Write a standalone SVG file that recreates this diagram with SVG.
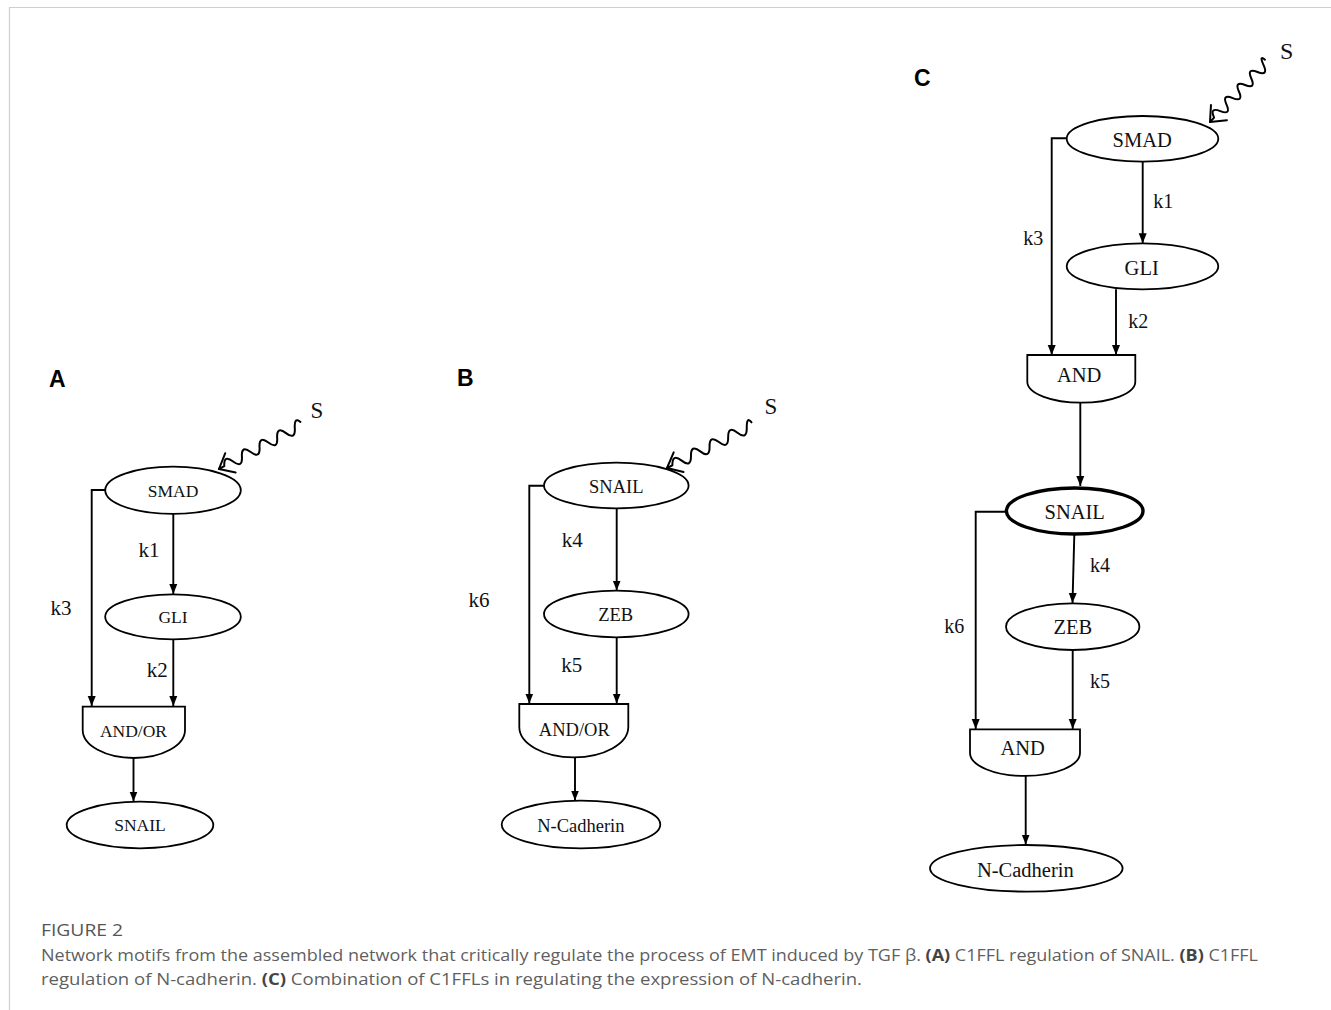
<svg xmlns="http://www.w3.org/2000/svg" width="1331" height="1010" viewBox="0 0 1331 1010">
<style>
.n{fill:#fff;stroke:#000;stroke-width:1.8}
.thick{stroke-width:3.4}
.e{fill:none;stroke:#000;stroke-width:1.9}
.w{fill:none;stroke:#000;stroke-width:2;stroke-linecap:round;stroke-linejoin:round}
.t{font-family:"Liberation Serif","Times New Roman",serif;fill:#111;text-anchor:middle}
.a{font-size:17.5px}
.b{font-size:18.5px}
.c{font-size:20.5px}
.k{font-family:"Liberation Serif","Times New Roman",serif;fill:#111;text-anchor:middle;font-size:21px}
.s{font-family:"Liberation Serif","Times New Roman",serif;fill:#111;text-anchor:middle;font-size:23px}
.p{font-family:"Liberation Sans",Arial,sans-serif;font-weight:bold;font-size:23px;fill:#000}
.cap{font-family:"Open Sans","Lato",sans-serif;fill:#5f5f5f;font-size:16px}
.cb{font-weight:bold;fill:#444}
</style>
<defs>
<marker id="ar" markerUnits="userSpaceOnUse" markerWidth="10" markerHeight="10" viewBox="0 0 10 10" refX="10" refY="5" orient="auto">
<path d="M0,1 L10,5 L0,9 Z" fill="#000"/>
</marker>
</defs>
<rect width="1331" height="1010" fill="#fff"/>
<g id="frame" stroke="#cfcfcf" stroke-width="1.2" fill="none">
<line x1="9" y1="7.5" x2="1331" y2="7.5"/>
<line x1="9.5" y1="7" x2="9.5" y2="1010"/>
</g>

<g id="connectors">
<!-- Panel A -->
<polyline class="e" points="105,490 91.7,490 91.7,706" marker-end="url(#ar)"/>
<line class="e" x1="173.3" y1="514" x2="173.3" y2="594" marker-end="url(#ar)"/>
<line class="e" x1="173.3" y1="639.5" x2="173.3" y2="706" marker-end="url(#ar)"/>
<line class="e" x1="133.5" y1="758" x2="133.5" y2="801.5" marker-end="url(#ar)"/>
<g transform="translate(219,469) rotate(-28.2)">
<path class="w" d="M0,0 L6,0 Q11,-11 16,0 T26,0 T36,0 T46,0 T56,0 T66,0 T76,0 T86,0 T94,-3"/>
<path class="w" d="M13,-11 L0,0 L13,11"/>
</g>
<!-- Panel B -->
<polyline class="e" points="544,485.7 529.3,485.7 529.3,703.5" marker-end="url(#ar)"/>
<line class="e" x1="616.7" y1="508.5" x2="616.7" y2="590.5" marker-end="url(#ar)"/>
<line class="e" x1="616.7" y1="637.5" x2="616.7" y2="703.5" marker-end="url(#ar)"/>
<line class="e" x1="575" y1="757.3" x2="575" y2="800.5" marker-end="url(#ar)"/>
<g transform="translate(667,468) rotate(-26.6)">
<path class="w" d="M0,0 L6,0 Q11.2,-11 16.4,0 T26.8,0 T37.2,0 T47.6,0 T58,0 T68.4,0 T78.8,0 T89.2,0 T96,-3"/>
<path class="w" d="M13,-11 L0,0 L13,11"/>
</g>
<!-- Panel C -->
<polyline class="e" points="1066.7,138.3 1051.7,138.3 1051.7,355" marker-end="url(#ar)"/>
<line class="e" x1="1142.7" y1="161.7" x2="1142.7" y2="243.3" marker-end="url(#ar)"/>
<line class="e" x1="1116" y1="289.3" x2="1116" y2="355" marker-end="url(#ar)"/>
<line class="e" x1="1080.3" y1="402.7" x2="1080.3" y2="486" marker-end="url(#ar)"/>
<polyline class="e" points="1006,511.7 975.7,511.7 975.7,729" marker-end="url(#ar)"/>
<line class="e" x1="1074.3" y1="535" x2="1072.5" y2="603" marker-end="url(#ar)"/>
<line class="e" x1="1072.7" y1="650" x2="1072.7" y2="729" marker-end="url(#ar)"/>
<line class="e" x1="1025.7" y1="776" x2="1025.7" y2="844.5" marker-end="url(#ar)"/>
<g transform="translate(1210,122) rotate(-46.5)">
<path class="w" d="M0,0 L6,0 Q10.5,-11 15,0 T24,0 T33,0 T42,0 T51,0 T60,0 T69,0 T78,0 T83,-3"/>
<path class="w" d="M13,-11 L0,0 L13,11"/>
</g>
</g>

<!-- Panel labels -->
<text class="p" x="49" y="387">A</text>
<text class="p" x="457" y="386">B</text>
<text class="p" x="914" y="85.5">C</text>

<!-- Panel A nodes -->
<text class="s" x="317" y="418">S</text>
<g id="A-SMAD"><ellipse class="n" cx="173" cy="490.3" rx="67.8" ry="23.6"/><text class="t a" x="173" y="496.8">SMAD</text></g>
<g id="A-GLI"><ellipse class="n" cx="173" cy="616.8" rx="67.8" ry="22.5"/><text class="t a" x="173" y="623">GLI</text></g>
<g id="A-GATE"><path class="n" d="M82.7,706.7 L185,706.7 L185,730 A51.15,28 0 0 1 82.7,730 Z"/><text class="t a" x="133.5" y="736.5">AND/OR</text></g>
<g id="A-SNAIL"><ellipse class="n" cx="140" cy="825" rx="73.3" ry="23.3"/><text class="t a" x="140" y="831">SNAIL</text></g>
<text class="k" x="149" y="556.5">k1</text>
<text class="k" x="61" y="615">k3</text>
<text class="k" x="157.3" y="676.5">k2</text>

<!-- Panel B nodes -->
<text class="s" x="771" y="414">S</text>
<g id="B-SNAIL"><ellipse class="n" cx="616.3" cy="485.5" rx="72.3" ry="22.9"/><text class="t b" x="616.3" y="492.5">SNAIL</text></g>
<g id="B-ZEB"><ellipse class="n" cx="616.3" cy="614" rx="72.3" ry="23.3"/><text class="t b" x="615.7" y="621.3">ZEB</text></g>
<g id="B-GATE"><path class="n" d="M519.3,704 L628.3,704 L628.3,727 A54.5,30.3 0 0 1 519.3,727 Z"/><text class="t b" x="574.3" y="736">AND/OR</text></g>
<g id="B-NCAD"><ellipse class="n" cx="581" cy="824.5" rx="79.3" ry="23.8"/><text class="t b" x="580.8" y="832">N-Cadherin</text></g>
<text class="k" x="572.3" y="546.5">k4</text>
<text class="k" x="479" y="606.5">k6</text>
<text class="k" x="571.7" y="671.5">k5</text>

<!-- Panel C nodes -->
<text class="s" x="1286.7" y="59.3" style="font-size:24px">S</text>
<g id="C-SMAD"><ellipse class="n" cx="1142.5" cy="138.8" rx="75.8" ry="22.8"/><text class="t c" x="1142.2" y="146.5">SMAD</text></g>
<g id="C-GLI"><ellipse class="n" cx="1142.5" cy="266.3" rx="75.8" ry="23"/><text class="t c" x="1141.7" y="274.5">GLI</text></g>
<g id="C-GATE1"><path class="n" d="M1027.3,355 L1135.3,355 L1135.3,381.7 A54,21 0 0 1 1027.3,381.7 Z"/><text class="t c" x="1079.2" y="381.5">AND</text></g>
<g id="C-SNAIL"><ellipse class="n thick" cx="1074.7" cy="511" rx="68.3" ry="23"/><text class="t c" x="1074.7" y="519">SNAIL</text></g>
<g id="C-ZEB"><ellipse class="n" cx="1072.7" cy="626.7" rx="66.7" ry="23.3"/><text class="t c" x="1072.8" y="634">ZEB</text></g>
<g id="C-GATE2"><path class="n" d="M970,729.3 L1080,729.3 L1080,753 A55,23 0 0 1 970,753 Z"/><text class="t c" x="1022.7" y="755">AND</text></g>
<g id="C-NCAD"><ellipse class="n" cx="1026.3" cy="868.3" rx="96.3" ry="23.3"/><text class="t c" x="1025.3" y="876.5">N-Cadherin</text></g>
<text class="k" x="1163.3" y="208.3" style="font-size:20px">k1</text>
<text class="k" x="1033.3" y="245" style="font-size:20px">k3</text>
<text class="k" x="1138.3" y="328.3" style="font-size:20px">k2</text>
<text class="k" x="1100" y="571.5" style="font-size:20px">k4</text>
<text class="k" x="954.2" y="633.3" style="font-size:20px">k6</text>
<text class="k" x="1100" y="688.3" style="font-size:20px">k5</text>

<!-- Caption -->
<g id="caption">
<text class="cap" x="41" y="936" style="font-size:15.5px;fill:#555" textLength="82" lengthAdjust="spacingAndGlyphs">FIGURE 2</text>
<text class="cap" x="41" y="961" textLength="1217" lengthAdjust="spacingAndGlyphs">Network motifs from the assembled network that critically regulate the process of EMT induced by TGF β. <tspan class="cb">(A)</tspan> C1FFL regulation of SNAIL. <tspan class="cb">(B)</tspan> C1FFL</text>
<text class="cap" x="41" y="985" textLength="821" lengthAdjust="spacingAndGlyphs">regulation of N-cadherin. <tspan class="cb">(C)</tspan> Combination of C1FFLs in regulating the expression of N-cadherin.</text>
</g>
</svg>
